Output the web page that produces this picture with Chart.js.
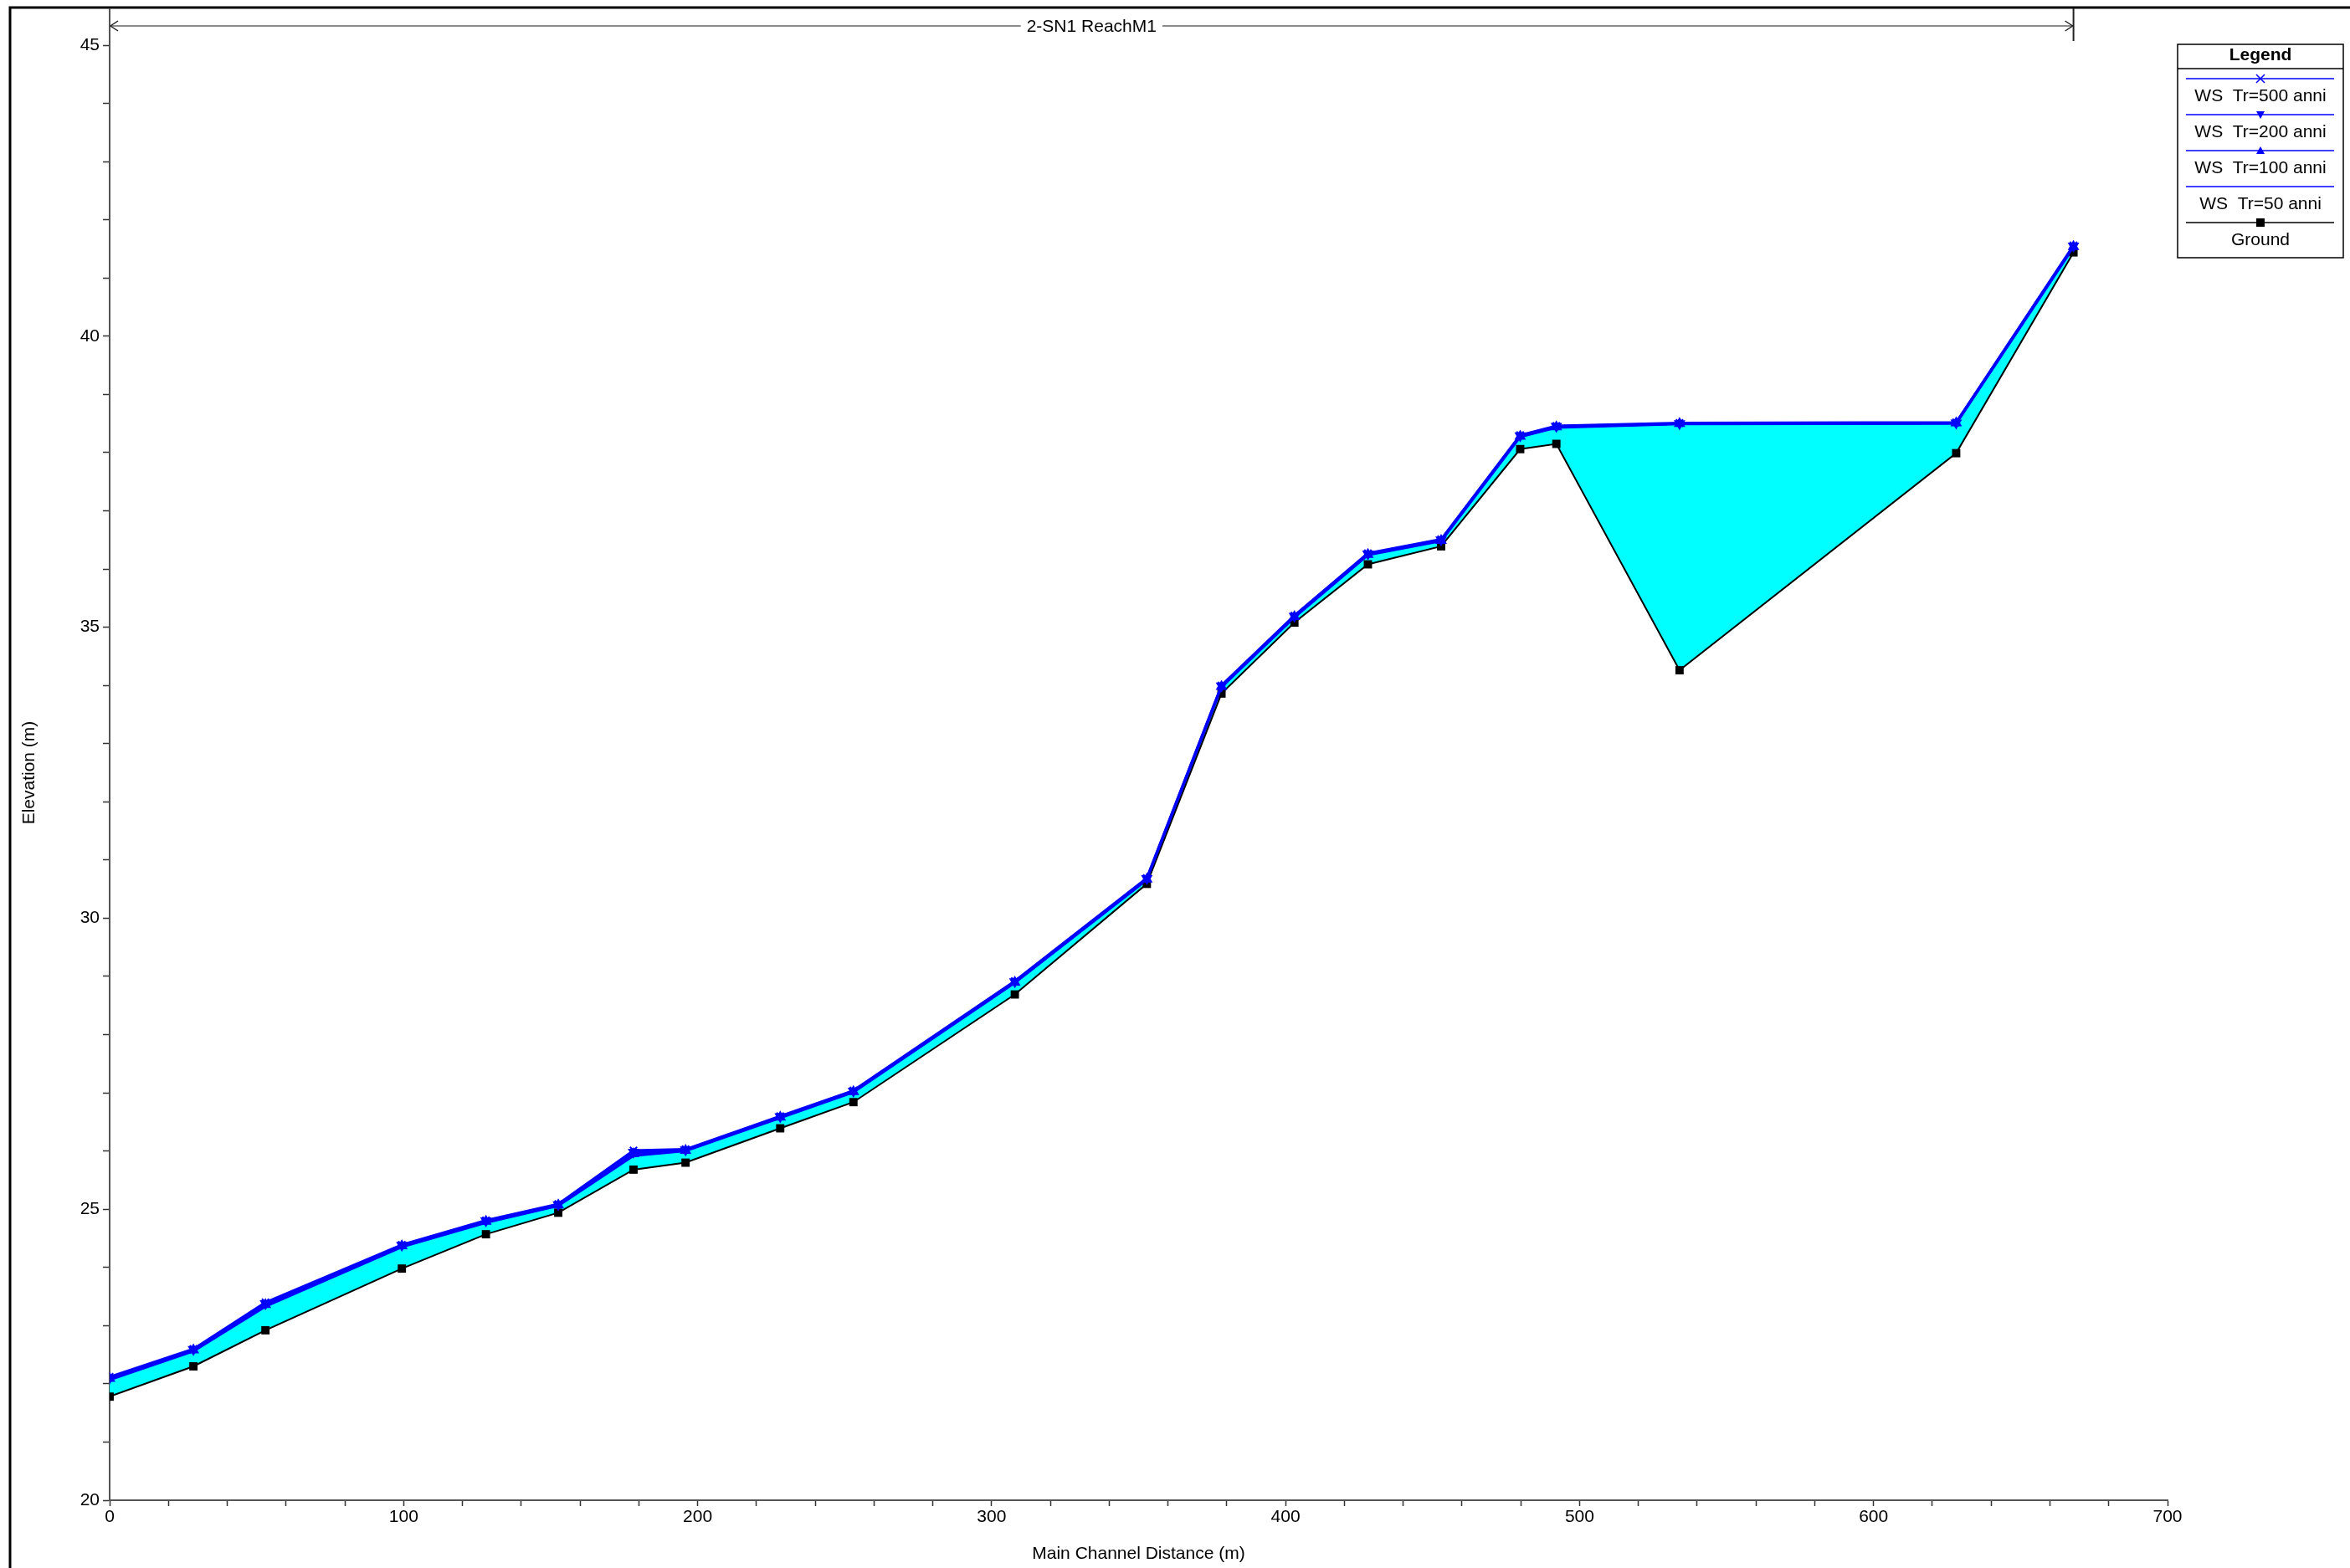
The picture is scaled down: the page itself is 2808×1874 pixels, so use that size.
<!DOCTYPE html>
<html>
<head>
<meta charset="utf-8">
<title>2-SN1 ReachM1 profile</title>
<script src="https://cdn.jsdelivr.net/npm/chart.js@4.4.1/dist/chart.umd.min.js"></script>
<style>
  html, body { margin: 0; padding: 0; background: #fff; }
  canvas { display: block; }
</style>
</head>
<body>
<canvas id="profileChart" width="2808" height="1874"></canvas>
<script>
// main channel distance of each cross section (m)
var distances = [0, 28.5, 53, 99.4, 128, 152.6, 178.2, 195.9, 228.1, 253.0, 307.9, 352.8, 378.2, 403.0, 428.0, 452.9, 479.8, 492.1, 534.0, 628.1, 668.0];
// channel bottom elevation (m)
var ground = [21.78, 22.30, 22.92, 23.98, 24.57, 24.94, 25.68, 25.80, 26.39, 26.84, 28.69, 30.59, 33.86, 35.08, 36.08, 36.39, 38.06, 38.15, 34.26, 37.99, 41.44];
// water surface for each return period (m)
var ws500 = [22.12, 22.60, 23.40, 24.39, 24.81, 25.09, 26.01, 26.03, 26.60, 27.04, 28.92, 30.69, 34.00, 35.20, 36.27, 36.51, 38.30, 38.46, 38.51, 38.52, 41.56];
var ws200 = [22.10, 22.59, 23.38, 24.38, 24.80, 25.08, 25.98, 26.02, 26.59, 27.03, 28.91, 30.68, 33.99, 35.19, 36.26, 36.50, 38.29, 38.45, 38.50, 38.51, 41.55];
var ws100 = [22.09, 22.58, 23.36, 24.37, 24.79, 25.07, 25.95, 26.01, 26.58, 27.02, 28.90, 30.67, 33.98, 35.18, 36.25, 36.49, 38.28, 38.44, 38.50, 38.51, 41.54];
var ws50  = [22.07, 22.56, 23.33, 24.35, 24.77, 25.06, 25.92, 26.00, 26.57, 27.01, 28.89, 30.66, 33.97, 35.17, 36.24, 36.48, 38.27, 38.43, 38.49, 38.50, 41.53];

var seriesLabels = ["WS  Tr=500 anni", "WS  Tr=200 anni", "WS  Tr=100 anni", "WS  Tr=50 anni", "Ground"];
var reachName = "2-SN1 ReachM1";

var FONT = "'Liberation Sans', Arial, sans-serif";
var BLUE = "#0000ff";

function pts(values) {
  return values.map(function (v, i) { return { x: distances[i], y: v }; });
}

// legend marker drawn by hand so it matches the dataset style
function drawMarker(ctx, style, rot, x, y, color) {
  ctx.save();
  ctx.fillStyle = color;
  ctx.strokeStyle = color;
  ctx.lineWidth = 1.5;
  ctx.beginPath();
  if (style === "crossRot") {
    ctx.moveTo(x - 5, y - 5); ctx.lineTo(x + 5, y + 5);
    ctx.moveTo(x + 5, y - 5); ctx.lineTo(x - 5, y + 5);
    ctx.stroke();
  } else if (style === "triangle") {
    var d = rot ? -1 : 1;
    ctx.moveTo(x - 5, y + 4 * d); ctx.lineTo(x + 5, y + 4 * d); ctx.lineTo(x, y - 5 * d);
    ctx.closePath(); ctx.fill();
  } else if (style === "rect") {
    ctx.fillRect(x - 5, y - 5, 10, 10);
  }
  ctx.restore();
}

var decorPlugin = {
  id: "decor",
  afterDraw: function (chart) {
    var ctx = chart.ctx;
    var xs = chart.scales.x;
    var area = chart.chartArea;
    ctx.save();

    // outer frame, top and left edges only
    ctx.strokeStyle = "#000";
    ctx.lineWidth = 3;
    ctx.beginPath();
    ctx.moveTo(12, chart.height);
    ctx.lineTo(12, 9);
    ctx.lineTo(chart.width, 9);
    ctx.stroke();

    // y axis line continues up to the frame
    ctx.strokeStyle = "#555";
    ctx.lineWidth = 2;
    ctx.beginPath();
    ctx.moveTo(area.left, area.top);
    ctx.lineTo(area.left, 10);
    ctx.stroke();

    // reach extent arrow
    var x0 = xs.getPixelForValue(distances[0]);
    var x1 = xs.getPixelForValue(distances[distances.length - 1]);
    var ay = area.top - 23;
    ctx.strokeStyle = "#666";
    ctx.lineWidth = 1.5;
    ctx.beginPath();
    ctx.moveTo(x0, ay); ctx.lineTo(x1, ay);
    ctx.stroke();
    ctx.strokeStyle = "#222";
    ctx.beginPath();
    ctx.moveTo(x0 + 10, ay - 6); ctx.lineTo(x0 + 1, ay); ctx.lineTo(x0 + 10, ay + 6);
    ctx.moveTo(x1 - 10, ay - 6); ctx.lineTo(x1 - 1, ay); ctx.lineTo(x1 - 10, ay + 6);
    ctx.stroke();
    ctx.lineWidth = 2;
    ctx.beginPath();
    ctx.moveTo(x1, 10); ctx.lineTo(x1, ay + 18);
    ctx.stroke();

    ctx.font = "21px " + FONT;
    var tw = ctx.measureText(reachName).width;
    var cx = (x0 + x1) / 2;
    ctx.fillStyle = "#fff";
    ctx.fillRect(cx - tw / 2 - 7, ay - 12, tw + 14, 24);
    ctx.fillStyle = "#000";
    ctx.textAlign = "center";
    ctx.textBaseline = "middle";
    ctx.fillText(reachName, cx, ay + 1);

    // legend box
    var lw = 198, lh = 255;
    var lx = chart.width - 206, ly = 53;
    ctx.fillStyle = "#fff";
    ctx.fillRect(lx, ly, lw, lh);
    ctx.strokeStyle = "#000";
    ctx.lineWidth = 1.5;
    ctx.strokeRect(lx, ly, lw, lh);
    ctx.beginPath();
    ctx.moveTo(lx, ly + 29); ctx.lineTo(lx + lw, ly + 29);
    ctx.stroke();
    ctx.fillStyle = "#000";
    ctx.font = "bold 21px " + FONT;
    ctx.fillText("Legend", lx + lw / 2, ly + 13);

    ctx.font = "21px " + FONT;
    chart.data.datasets.forEach(function (ds, i) {
      var yl = ly + 41 + i * 43;
      ctx.strokeStyle = ds.borderColor;
      ctx.lineWidth = 1.5;
      ctx.beginPath();
      ctx.moveTo(lx + 10, yl); ctx.lineTo(lx + lw - 11, yl);
      ctx.stroke();
      if (ds.pointRadius > 0) {
        drawMarker(ctx, ds.pointStyle, ds.pointRotation, lx + lw / 2, yl, ds.pointBackgroundColor);
      }
      ctx.fillStyle = "#000";
      ctx.fillText(ds.label, lx + lw / 2, yl + 21);
    });

    ctx.restore();
  }
};

function renderChart() {
  var ctx = document.getElementById("profileChart").getContext("2d");
  new Chart(ctx, {
    type: "line",
    data: {
      datasets: [
        {
          label: seriesLabels[0], data: pts(ws500), order: 0,
          borderColor: BLUE, borderWidth: 3,
          pointStyle: "crossRot", pointRadius: 6, pointBorderWidth: 2,
          pointBorderColor: BLUE, pointBackgroundColor: BLUE, fill: false
        },
        {
          label: seriesLabels[1], data: pts(ws200), order: 1,
          borderColor: BLUE, borderWidth: 3,
          pointStyle: "triangle", pointRotation: 180, pointRadius: 5,
          pointBorderColor: BLUE, pointBackgroundColor: BLUE, fill: false
        },
        {
          label: seriesLabels[2], data: pts(ws100), order: 2,
          borderColor: BLUE, borderWidth: 3,
          pointStyle: "triangle", pointRadius: 5,
          pointBorderColor: BLUE, pointBackgroundColor: BLUE, fill: false
        },
        {
          label: seriesLabels[3], data: pts(ws50), order: 4,
          borderColor: BLUE, borderWidth: 3, pointRadius: 0,
          backgroundColor: "#00ffff", fill: "+1"
        },
        {
          label: seriesLabels[4], data: pts(ground), order: 3,
          borderColor: "#000", borderWidth: 2,
          pointStyle: "rect", pointRadius: 7, pointBorderWidth: 0,
          pointBorderColor: "#000", pointBackgroundColor: "#000", fill: false
        }
      ]
    },
    options: {
      responsive: false,
      animation: false,
      events: [],
      layout: { padding: { left: 0, top: 54, right: 218, bottom: 0 } },
      elements: { line: { tension: 0 } },
      plugins: {
        legend: { display: false },
        tooltip: { enabled: false },
        title: { display: false }
      },
      scales: {
        x: {
          type: "linear",
          min: 0, max: 700,
          afterFit: function (s) { s.height = 81; },
          border: { color: "#555", width: 2 },
          grid: { drawOnChartArea: false, tickLength: 7, tickColor: "#333", tickWidth: 1.5 },
          ticks: {
            stepSize: 20, autoSkip: false, maxRotation: 0, padding: 1,
            color: "#000", font: { family: FONT, size: 21 },
            callback: function (v) { return v % 100 === 0 ? v : ""; }
          },
          title: {
            display: true, text: "Main Channel Distance (m)", color: "#000",
            font: { family: FONT, size: 21 }, padding: { top: 4, bottom: 4 }
          }
        },
        y: {
          min: 20, max: 45,
          afterFit: function (s) { s.width = 131; },
          border: { color: "#555", width: 2 },
          grid: { drawOnChartArea: false, tickLength: 8, tickColor: "#333", tickWidth: 1.5 },
          ticks: {
            stepSize: 1, autoSkip: false, padding: 4,
            color: "#000", font: { family: FONT, size: 21 },
            callback: function (v) { return v % 5 === 0 ? v : ""; }
          },
          title: {
            display: true, text: "Elevation (m)", color: "#000",
            font: { family: FONT, size: 21 }, padding: { top: 23, bottom: 0 }
          }
        }
      }
    },
    plugins: [decorPlugin]
  });
}

document.addEventListener("DOMContentLoaded", function () {
  renderChart();
});
</script>
</body>
</html>
